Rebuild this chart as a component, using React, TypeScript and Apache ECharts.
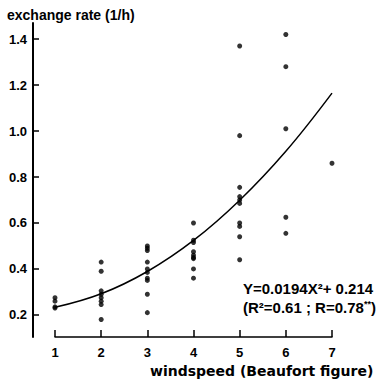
import React, { useEffect, useRef } from "react";
import * as echarts from "echarts";

const windspeed = [1, 2, 3, 4, 5, 6, 7];
const rateAt1 = [0.275, 0.26, 0.235, 0.23];
const rateAt2 = [0.43, 0.39, 0.305, 0.29, 0.275, 0.26, 0.245, 0.18];
const rateAt3 = [0.5, 0.49, 0.48, 0.43, 0.4, 0.385, 0.36, 0.35, 0.29, 0.21];
const rateAt4 = [0.6, 0.525, 0.515, 0.475, 0.46, 0.45, 0.445, 0.4, 0.36];
const rateAt5 = [1.37, 0.98, 0.755, 0.715, 0.7, 0.685, 0.6, 0.585, 0.54, 0.44];
const rateAt6 = [1.42, 1.28, 1.01, 0.625, 0.555];
const rateAt7 = [0.86];
const fitRate = [0.233, 0.292, 0.389, 0.524, 0.699, 0.912, 1.165];
const yTicks = [0.2, 0.4, 0.6, 0.8, 1.0, 1.2, 1.4];

const FONT = "Liberation Sans";

export default function App() {
  const ref = useRef<HTMLDivElement>(null);
  useEffect(() => {
    if (!ref.current) return;
    const chart = echarts.init(ref.current, null, { renderer: "svg" });
    const groups = [rateAt1, rateAt2, rateAt3, rateAt4, rateAt5, rateAt6, rateAt7];
    const points: number[][] = [];
    groups.forEach((g, i) => g.forEach((v) => points.push([windspeed[i], v])));
    const fit = windspeed.map((x, i) => [x, fitRate[i]]);
    const textStyle = { fontFamily: FONT, fontWeight: "bold", fontSize: 13, fill: "#000" };
    chart.setOption({
      animation: false,
      backgroundColor: "#fff",
      grid: { left: 55, right: 48, top: 23, bottom: 45 },
      xAxis: {
        type: "value",
        min: 1,
        max: 7,
        interval: 1,
        axisLine: { show: true, lineStyle: { color: "#000", width: 1.5 } },
        axisTick: { show: true, inside: true, length: 7, lineStyle: { color: "#000", width: 1.5 } },
        axisLabel: { margin: 9, color: "#000", fontFamily: FONT, fontWeight: "bold", fontSize: 13 },
        splitLine: { show: false },
      },
      yAxis: {
        type: "value",
        min: 0.104,
        max: 1.47,
        offset: 22,
        axisLine: { show: true, lineStyle: { color: "#000", width: 2 } },
        axisTick: { show: true, inside: true, length: 6, customValues: yTicks, lineStyle: { color: "#000", width: 1.5 } },
        axisLabel: {
          margin: 6,
          color: "#000",
          fontFamily: FONT,
          fontWeight: "bold",
          fontSize: 13,
          customValues: yTicks,
          formatter: (v: number) => v.toFixed(1),
        },
        splitLine: { show: false },
      },
      series: [
        {
          type: "line",
          data: fit,
          smooth: 0.4,
          showSymbol: false,
          symbol: "none",
          lineStyle: { color: "#000", width: 1.5 },
          clip: false,
        },
        {
          type: "scatter",
          data: points,
          symbolSize: 5,
          itemStyle: { color: "#000" },
          clip: false,
        },
      ],
      graphic: [
        { type: "text", left: 7, top: 8, style: { ...textStyle, fontSize: 14, text: "exchange rate (1/h)" } },
        {
          type: "text",
          left: 150,
          top: 364,
          style: { ...textStyle, fontFamily: "DejaVu Sans", fontSize: 14, text: "windspeed (Beaufort figure)" },
        },
        { type: "text", left: 243, top: 281, style: { ...textStyle, fontSize: 15, text: "Y=0.0194X²+ 0.214" } },
        {
          type: "text",
          left: 243,
          top: 299,
          style: {
            ...textStyle,
            fontSize: 15,
            text: "(R²=0.61 ; R=0.78{s|**})",
            rich: { s: { fontFamily: FONT, fontWeight: "bold", fontSize: 9, padding: [0, 0, 8, 0] } },
          },
        },
      ],
    });
    return () => chart.dispose();
  }, []);
  return <div ref={ref} style={{ position: "fixed", left: 0, top: 0, width: 380, height: 382 }} />;
}
